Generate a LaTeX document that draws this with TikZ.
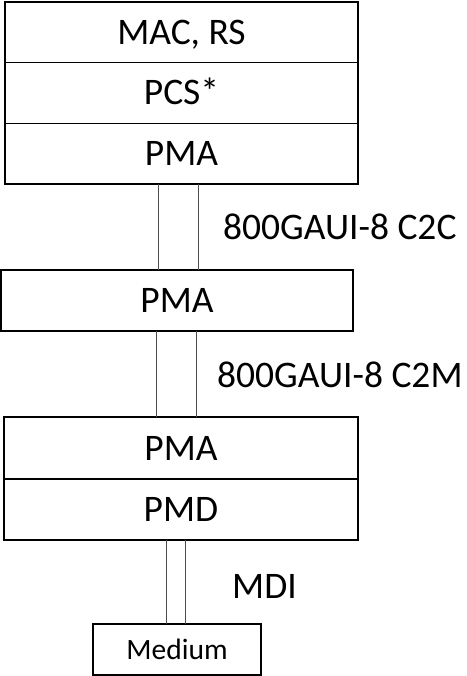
\documentclass[tikz,border=0pt]{standalone}
\usepackage{fontspec}
\setmainfont{Carlito}
\usetikzlibrary{positioning}
\tikzstyle{layer}=[draw, line width=1.5pt, outer sep=0pt, inner sep=0pt, text height=24pt, text depth=0pt, font=\fontsize{37.5}{40}\selectfont]
\tikzstyle{medium box}=[layer, text height=19pt, font=\fontsize{29.5}{32}\selectfont]
\tikzstyle{link}=[draw=black!70, line width=1pt]
\tikzstyle{iface}=[anchor=base west, inner sep=0pt, font=\fontsize{37.5}{40}\selectfont]

\begin{document}
\begin{tikzpicture}[x=1pt, y=-1pt]
    \useasboundingbox (0, 0) rectangle (466, 676);

    % host stack
    \node[layer, minimum width=353pt, minimum height=60.5pt] (mac_rs) at (181.5, 32.25) {MAC, RS};
    \node[layer, minimum width=353pt, minimum height=61pt, below=0pt of mac_rs] (pcs) {PCS*};
    \node[layer, minimum width=353pt, minimum height=60.5pt, below=0pt of pcs] (pma_host) {PMA};

    % retimer
    \node[layer, minimum width=352pt, minimum height=61pt] (pma_mid) at (177, 300.5) {PMA};

    % module stack
    \node[layer, minimum width=354pt, minimum height=62pt] (pma_mod) at (181, 448) {PMA};
    \node[layer, minimum width=354pt, minimum height=61pt, below=0pt of pma_mod] (pmd) {PMD};

    \node[medium box, minimum width=168pt, minimum height=51pt] (medium) at (177, 649.5) {Medium};

    \draw[link] ([xshift=-23.5pt]pma_host.south) -- ([xshift=-23.5pt]pma_host.south |- pma_mid.north);
    \draw[link] ([xshift=16.5pt]pma_host.south) -- ([xshift=16.5pt]pma_host.south |- pma_mid.north);
    \node[iface] (c2c) at (223, 239) {800GAUI-8 C2C};

    \draw[link] ([xshift=-21pt]pma_mid.south) -- ([xshift=-21pt]pma_mid.south |- pma_mod.north);
    \draw[link] ([xshift=19pt]pma_mid.south) -- ([xshift=19pt]pma_mid.south |- pma_mod.north);
    \node[iface] (c2m) at (217, 387) {800GAUI-8 C2M};

    \draw[link] ([xshift=-11pt]medium.north |- pmd.south) -- ([xshift=-11pt]medium.north);
    \draw[link] ([xshift=8pt]medium.north |- pmd.south) -- ([xshift=8pt]medium.north);
    \node[iface] (mdi) at (232, 598) {MDI};
\end{tikzpicture}
\end{document}
